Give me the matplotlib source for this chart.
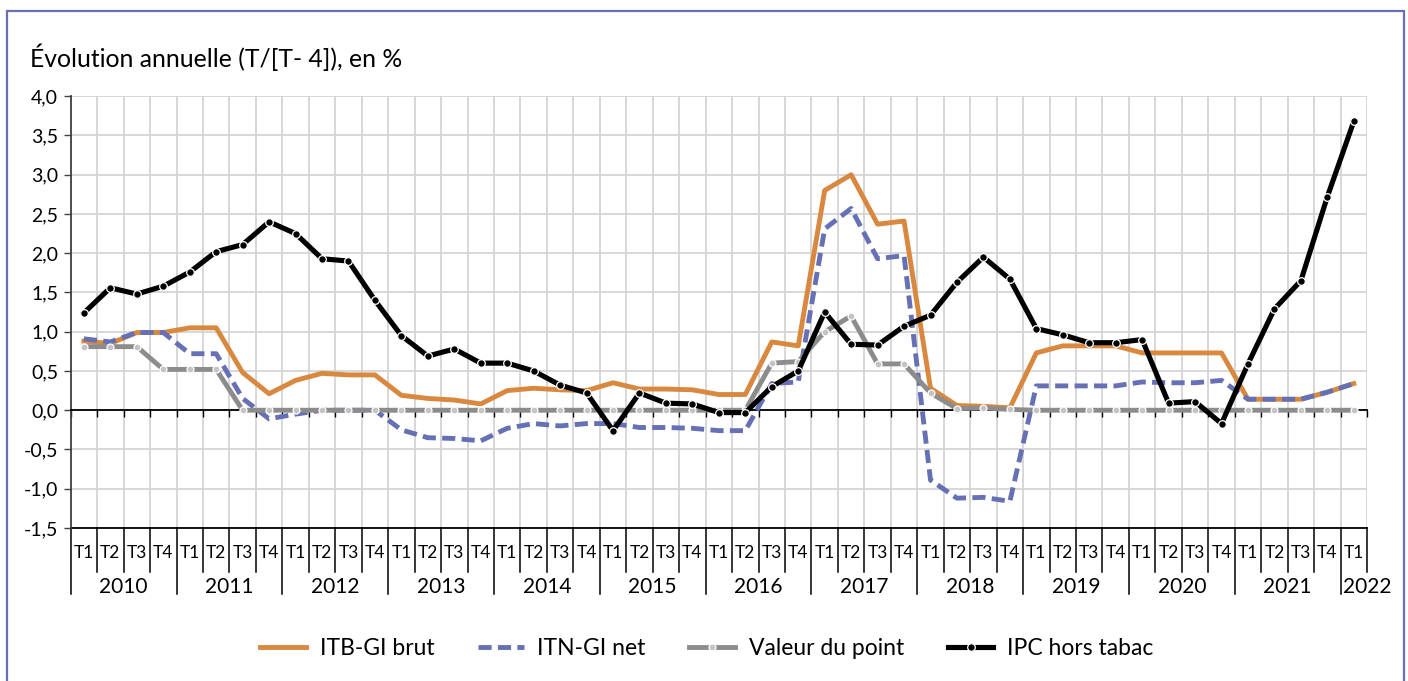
import numpy as np
import matplotlib.pyplot as plt
from matplotlib.ticker import FuncFormatter
from matplotlib.patches import Rectangle

plt.rcParams['font.family'] = ['Lato', 'DejaVu Sans']

# Data (2010 T1 .. 2022 T1)
years = ['2010', '2011', '2012', '2013', '2014', '2015', '2016',
         '2017', '2018', '2019', '2020', '2021', '2022']
quarters = ['T1', 'T2', 'T3', 'T4'] * 12 + ['T1']

itb_brut = [0.88, 0.85, 0.99, 0.99, 1.05, 1.05, 0.48, 0.21,
            0.38, 0.47, 0.45, 0.45, 0.19, 0.15, 0.13, 0.08,
            0.25, 0.28, 0.26, 0.25, 0.35, 0.27, 0.27, 0.26,
            0.20, 0.20, 0.87, 0.82, 2.80, 3.00, 2.37, 2.41,
            0.28, 0.06, 0.05, 0.03, 0.73, 0.82, 0.82, 0.82,
            0.73, 0.73, 0.73, 0.73, 0.14, 0.14, 0.14, 0.23,
            0.34]
itn_net = [0.91, 0.87, 0.99, 0.99, 0.72, 0.72, 0.15, -0.11,
           -0.05, 0.00, 0.00, 0.00, -0.25, -0.35, -0.36, -0.39,
           -0.23, -0.17, -0.20, -0.17, -0.17, -0.22, -0.22, -0.23,
           -0.26, -0.26, 0.34, 0.36, 2.31, 2.57, 1.93, 1.97,
           -0.89, -1.12, -1.11, -1.16, 0.31, 0.31, 0.31, 0.31,
           0.36, 0.35, 0.35, 0.38, 0.14, 0.14, 0.14, 0.23,
           0.34]
valeur_point = [0.81, 0.81, 0.81, 0.52, 0.52, 0.52, 0, 0,
                0, 0, 0, 0, 0, 0, 0, 0,
                0, 0, 0, 0, 0, 0, 0, 0,
                0, 0, 0.60, 0.62, 1.00, 1.20, 0.59, 0.59,
                0.22, 0.02, 0.03, 0.01, 0, 0, 0, 0,
                0, 0, 0, 0, 0, 0, 0, 0,
                0]
ipc = [1.24, 1.56, 1.48, 1.58, 1.76, 2.02, 2.11, 2.40,
       2.25, 1.93, 1.90, 1.40, 0.95, 0.69, 0.78, 0.60,
       0.60, 0.50, 0.32, 0.22, -0.26, 0.22, 0.09, 0.08,
       -0.03, -0.03, 0.30, 0.50, 1.25, 0.84, 0.83, 1.07,
       1.21, 1.63, 1.95, 1.67, 1.04, 0.96, 0.86, 0.86,
       0.90, 0.09, 0.11, -0.17, 0.59, 1.29, 1.65, 2.72,
       3.68]

n = len(quarters)
x = np.arange(n)

fig = plt.figure(figsize=(14.08, 6.81), dpi=100)
ax = fig.add_axes([0.0502, 0.2247, 0.9207, 0.634])

grid_c = '#D4D4D4'
for k in np.arange(-0.5, n, 1.0):
    ax.plot([k, k], [-1.5, 4.0], color=grid_c, lw=1.3, zorder=0)
for yv in np.arange(-1.5, 4.01, 0.5):
    ax.plot([-0.5, n - 0.5], [yv, yv], color=grid_c, lw=1.3, zorder=0)

ax.plot(x, itb_brut, color='#D8883F', lw=3.5, zorder=2, label='ITB-GI brut')
ax.plot(x, itn_net, color='#6670B5', lw=3.5, dashes=(2.7, 1.3), zorder=3,
        label='ITN-GI net')
ax.plot(x, valeur_point, color='#8C8C8C', lw=3.5, marker='o', ms=5,
        mfc='#C4C4C4', mec='white', mew=0.9, zorder=4, label='Valeur du point')
ax.plot(x, ipc, color='black', lw=3.7, marker='o', ms=5.5,
        mfc='black', mec='white', mew=0.9, zorder=5, label='IPC hors tabac')

ax.set_xlim(-0.5, n - 0.5)
ax.set_ylim(-1.5, 4.0)
ax.set_yticks(np.arange(-1.5, 4.01, 0.5))
ax.yaxis.set_major_formatter(FuncFormatter(lambda v, p: f'{v:.1f}'.replace('.', ',')))
ax.tick_params(axis='y', direction='out', length=5, width=1, labelsize=14,
               pad=4, color='#404040')

for s in ['top', 'right']:
    ax.spines[s].set_visible(False)
ax.spines['left'].set_color('#404040')
ax.spines['left'].set_linewidth(1.3)
ax.spines['bottom'].set_position(('data', 0))
ax.spines['bottom'].set_linewidth(1.3)
ax.set_xticks(np.arange(-0.5, n, 1.0))
ax.set_xticklabels([])
ax.tick_params(axis='x', direction='out', length=5, width=1)
ax.axhline(-1.5, color='black', lw=1.3, zorder=1, clip_on=False)

# multi-level category axis
tr = ax.get_xaxis_transform()
for i, q in enumerate(quarters):
    ax.text(i, -0.058, q, transform=tr, ha='center', va='center', fontsize=12.5)
for k in range(n + 1):
    b = k - 0.5
    low = -0.153 if (k % 4 == 0) else -0.102
    ax.plot([b, b], [0, low], transform=tr, color='black', lw=1.1,
            clip_on=False)
for j, yr in enumerate(years):
    if j < 12:
        ax.text(j * 4 + 1.5, -0.137, yr, transform=tr, ha='center',
                va='center', fontsize=15)
    else:
        ax.text(47.58, -0.137, yr, transform=tr, ha='left',
                va='center', fontsize=15)

fig.text(0.0213, 0.916, 'Évolution annuelle (T/[T- 4]), en %', fontsize=17.8,
         ha='left', va='center')

ax.legend(loc='center', bbox_to_anchor=(0.502, 0.047),
          bbox_transform=fig.transFigure, ncol=4, frameon=False,
          fontsize=16.5, handlelength=2.0, handletextpad=0.6,
          columnspacing=1.9, numpoints=1)

fig.patches.append(Rectangle((0.005, -0.02), 0.992, 1.004, transform=fig.transFigure,
                             fill=False, edgecolor='#6B70B3', lw=1.6))

fig.savefig('out.png', dpi=100)
